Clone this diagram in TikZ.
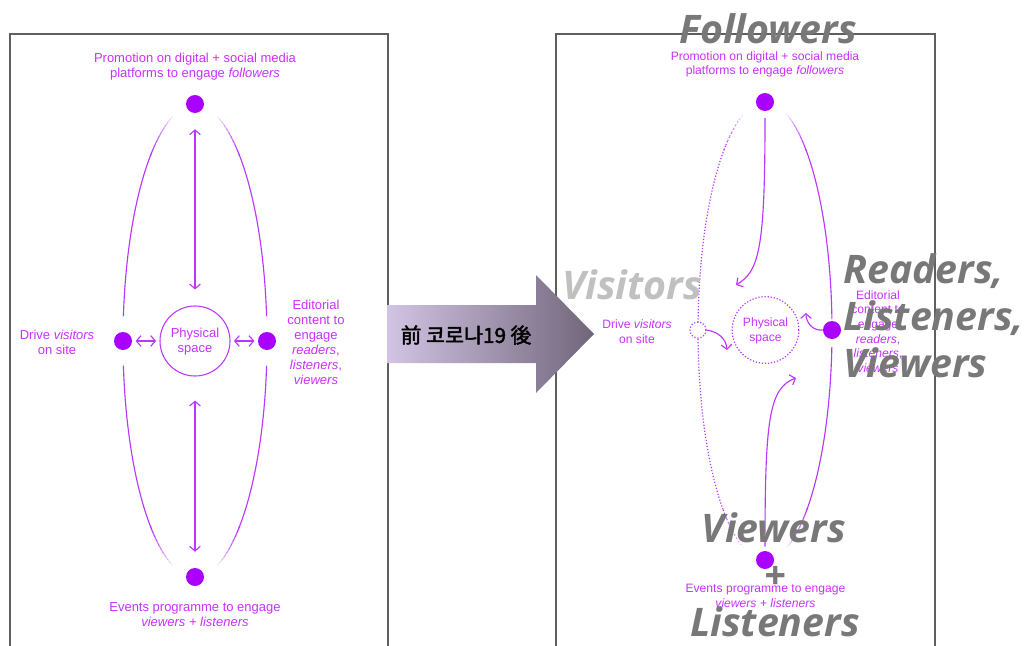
\documentclass[tikz,border=0pt]{standalone}
\usepackage{fontspec}
\setmainfont{Liberation Sans}
\newfontfamily\bigf{Open Sans}
\newfontfamily\cjk{Noto Sans CJK KR}[FakeBold=2.2]
\usetikzlibrary{arrows.meta}
\definecolor{dotc}{RGB}{170,0,255}
\definecolor{txtc}{RGB}{200,50,255}
\definecolor{linec}{RGB}{185,55,255}
\definecolor{grayA}{RGB}{120,120,120}
\definecolor{grayB}{RGB}{192,192,192}
\definecolor{framec}{RGB}{95,95,95}
\definecolor{arrL}{RGB}{210,196,228}
\definecolor{arrR}{RGB}{112,102,122}
\newcommand\ellarc[7]{% cx cy rx ry t1 t2 style
  \draw[#7] plot[domain=#5:#6, samples=40, smooth] ({#1+#3*cos(\x)},{#2+#4*sin(\x)});}
\newcommand\fadearc[7]{% cx cy rx ry tstart dir style ; fades over 20 degrees from tstart
  \foreach \k in {0,...,9}{%
    \pgfmathsetmacro\ta{#5+#6*2*\k}%
    \pgfmathsetmacro\tb{#5+#6*2*(\k+1)+#6*0.3}%
    \pgfmathsetmacro\op{(\k+1)/10}%
    \draw[#7, opacity=\op] plot[domain=\ta:\tb, samples=4, smooth] ({#1+#3*cos(\x)},{#2+#4*sin(\x)});
  }}
\begin{document}
\begin{tikzpicture}[x=0.75pt,y=-0.75pt,
  dotn/.style={circle, fill=dotc, inner sep=0pt, minimum size=13.5pt},
  mtxt/.style={text=txtc, font=\fontsize{9.75}{11.25}\selectfont, align=center, inner sep=0pt},
  mtxtr/.style={text=txtc, font=\fontsize{9.1}{11}\selectfont, align=center, inner sep=0pt},
  arcl/.style={draw=linec, line width=0.85pt},
  dotl/.style={draw=linec, line width=0.9pt, dash pattern=on 0.9pt off 1.4pt},
  barb/.tip={Straight Barb[length=3.5pt,width=8pt]},
  dbl/.style={draw=linec, line width=0.85pt, barb-barb},
  sarr/.style={draw=linec, line width=0.85pt, -barb},
  big/.style={text=grayA, font=\bigf\bfseries\itshape\fontsize{29.5}{35}\selectfont, inner sep=0pt},
  framel/.style={draw=framec, line width=0.9pt}]
\useasboundingbox (0,0) rectangle (1032,646);
\fill[white] (0,0) rectangle (1032,646);
% frames
\draw[framel] (10,650) -- (10,34) -- (388,34) -- (388,650);
\draw[framel] (556,650) -- (556,34) -- (935,34) -- (935,650);
% block arrow
\shade[left color=arrL, right color=arrR] (387,305) -- (536,305) -- (536,275) -- (594,334) -- (536,393) -- (536,363) -- (387,363) -- cycle;
\node[font=\cjk\fontsize{15.5}{18}\selectfont, inner sep=0pt] (cov) at (466,335) {前 코로나19 後};

% ---------------- left panel
\node[dotn] (ltop) at (195,104) {};
\node[dotn] (lleft) at (123,341) {};
\node[dotn] (lright) at (267,341) {};
\node[dotn] (lbot) at (195,577) {};
\node[circle, draw=linec, line width=0.8pt, minimum size=52.5pt, inner sep=0pt] (lphys) at (195,341) {};
\node[mtxt] (lphyst) at (195,342) {Physical\\space};
\node[mtxt] (ltopt) at (195,66.5) {Promotion on digital + social media\\platforms to engage \textit{followers}};
\node[mtxt] (lleftt) at (57,342) {Drive \textit{visitors}\\on site};
\node[mtxt] (lrightt) at (316,342) {Editorial\\content to\\engage\\\textit{readers},\\\textit{listeners},\\\textit{viewers}};
\node[mtxt] (lbott) at (195,615) {Events programme to engage\\\textit{viewers + listeners}};
\draw[dbl, shorten <=2.5pt, shorten >=2.5pt] (lleft) -- (lphys);
\draw[dbl, shorten <=2.5pt, shorten >=2.5pt] (lright) -- (lphys);
\draw[dbl, shorten <=12pt, shorten >=12pt] (ltop) -- (lphys);
\draw[dbl, shorten <=12pt, shorten >=18pt] (lbot) -- (lphys);
% outer ellipse arcs
\fadearc{195}{341}{72}{236}{252}{-1}{arcl}
\ellarc{195}{341}{72}{236}{232.5}{186}{arcl}
\ellarc{195}{341}{72}{236}{174}{127.5}{arcl}
\fadearc{195}{341}{72}{236}{108}{1}{arcl}
\fadearc{195}{341}{72}{236}{288}{1}{arcl}
\ellarc{195}{341}{72}{236}{307.5}{354}{arcl}
\ellarc{195}{341}{72}{236}{6}{52.5}{arcl}
\fadearc{195}{341}{72}{236}{72}{-1}{arcl}

% ---------------- right panel
\node[dotn] (rtop) at (765,102) {};
\node[dotn] (rright) at (832,330) {};
\node[dotn] (rbot) at (765,560) {};
\node[circle, dotl, minimum size=12pt, inner sep=0pt] (rleft) at (698,330) {};
\node[circle, dotl, minimum size=50pt, inner sep=0pt] (rphys) at (765.5,330) {};
\node[mtxtr] (rphyst) at (765.5,331) {Physical\\space};
\node[mtxtr] (rtopt) at (765,64.5) {Promotion on digital + social media\\platforms to engage \textit{followers}};
\node[mtxtr] (rleftt) at (637,331.5) {Drive \textit{visitors}\\on site};
\node[mtxtr] (rrightt) at (878,331.5) {Editorial\\content to\\engage\\\textit{readers},\\\textit{listeners},\\\textit{viewers}};
\node[mtxtr] (rbott) at (765.5,596) {Events programme to engage\\\textit{viewers + listeners}};
% ellipse arcs
\fadearc{765}{331}{67}{229}{252}{-1}{dotl}
\ellarc{765}{331}{67}{229}{232.5}{182}{dotl}
\ellarc{765}{331}{67}{229}{178}{128.5}{dotl}
\fadearc{765}{331}{67}{229}{109}{1}{dotl}
\fadearc{765}{331}{67}{229}{288}{1}{arcl}
\ellarc{765}{331}{67}{229}{307.5}{357}{arcl}
\ellarc{765}{331}{67}{229}{4}{51.5}{arcl}
\fadearc{765}{331}{67}{229}{71}{-1}{arcl}
% inner arrows
\coordinate (ta) at (736,285);
\coordinate (tb) at (796,378);
\coordinate (tc) at (806,313);
\coordinate (td) at (727,350);
\draw[sarr, shorten <=12pt] (rtop.center) .. controls (765,250) and (759,271) .. (ta);
\draw[sarr, shorten <=3pt] (rbot.north) .. controls (765,420) and (769,388) .. (tb);
\draw[sarr] (rright.west) .. controls (812,331) and (806,322) .. (tc);
\draw[sarr] (rleft.east) .. controls (719,332) and (726,339) .. (td);

% big gray labels
\node[big, anchor=base] (fol) at (768,43) {Followers};
\node[big, text=grayB, anchor=base] (vis) at (632,299) {Visitors};
\node[big, anchor=base west] (rd1) at (843,283) {Readers,};
\node[big, anchor=base west] (rd2) at (843,330) {Listeners,};
\node[big, anchor=base west] (rd3) at (843,377) {Viewers};
\node[big, anchor=base] (vw1) at (774,542) {Viewers};
\node[big, anchor=base] (vw2) at (775,589) {+};
\node[big, anchor=base] (vw3) at (775,636) {Listeners};
\end{tikzpicture}
\end{document}
